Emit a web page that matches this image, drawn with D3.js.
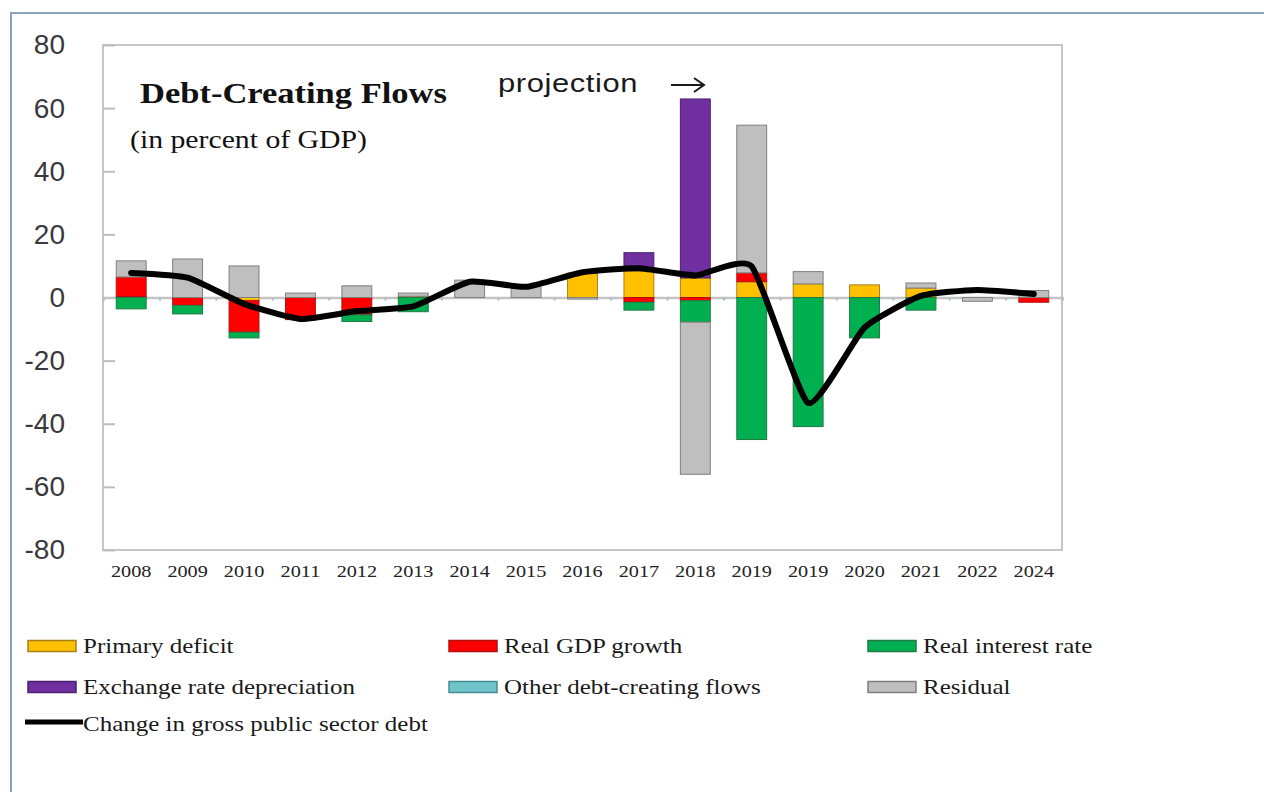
<!DOCTYPE html>
<html>
<head>
<meta charset="utf-8">
<script src="https://cdn.jsdelivr.net/npm/d3@7"></script>
<style>
  body { margin: 0; background: #fff; }
  svg { display: block; }
</style>
</head>
<body>
<svg id="chart" width="1264" height="792"></svg>
<script>
// ---- data (percent of GDP) ----
const years = ["2008","2009","2010","2011","2012","2013","2014","2015","2016","2017","2018","2019","2019","2020","2021","2022","2024"];
const primaryDeficit   = [0.3, 0, -1, 0, 0, 0.4, 0, 0, 7.7, 8.5, 6.2, 5, 4.3, 4, 3, 0, 0];
const realGdpGrowth    = [6.2, -2.5, -10, -7, -5.5, 0, 0, 0, 0, -1.5, -1, 2.8, 0, 0, 0, 0, -1.5];
const realInterestRate = [-3.6, -2.7, -1.8, 0, -2.1, -4.5, 0, 0, 0, -2.5, -6.8, -45, -40.9, -12.8, -4, 0, 0];
const exchangeRateDep  = [0, 0, 0, 0, 0, 0, 0, 0, 0, 5.7, 56.7, 0, 0, 0, 0, 0, 0];
const otherFlows       = [0, 0, 0, 0, 0, 0, 0, 0, 0, 0, 0, 0, 0, 0, 0, 0, 0];
const residual         = [5.1, 12.2, 10, 1.4, 3.7, 1.0, 5.5, 4, -0.5, 0, -48.2, 46.8, 3.9, 0, 1.6, -1.2, 2.2];
const debtChange       = [7.8, 6.3, -2, -6.8, -4.3, -2.8, 5, 3.4, 8, 9.3, 7, 9.8, -33.4, -9.5, 0.5, 2.4, 1.1];
const yTicks = [-80, -60, -40, -20, 0, 20, 40, 60, 80];

const seriesNames = ["Primary deficit", "Real GDP growth", "Real interest rate",
  "Exchange rate depreciation", "Other debt-creating flows", "Residual"];
const seriesValues = [primaryDeficit, realGdpGrowth, realInterestRate, exchangeRateDep, otherFlows, residual];
const seriesFill   = ["#ffc000", "#ff0000", "#00b050", "#7030a0", "#70c4cc", "#bfbfbf"];
const seriesStroke = ["#a8801a", "#b01010", "#1f7a45", "#4a2070", "#4a8a92", "#7f7f7f"];
const lineName = "Change in gross public sector debt";

// ---- layout ----
const svg = d3.select("#chart");
const plot = { left: 103, right: 1062, top: 45, bottom: 550 };
const serifStretch = 1.19;

const x = d3.scaleBand()
  .domain(d3.range(years.length))
  .range([plot.left, plot.right])
  .paddingInner(0.47)
  .paddingOuter(0.235);
const y = d3.scaleLinear().domain([-80, 80]).range([plot.bottom, plot.top]);

// outer frame
svg.append("path")
  .attr("d", "M11,792 V13 H1264")
  .attr("fill", "none")
  .attr("stroke", "#8ea2bb")
  .attr("stroke-width", 2);

// plot area box
svg.append("rect")
  .attr("x", plot.left).attr("y", plot.top)
  .attr("width", plot.right - plot.left).attr("height", plot.bottom - plot.top)
  .attr("fill", "#fff")
  .attr("stroke", "#c6c6c6")
  .attr("stroke-width", 2);

// value axis: inward ticks, labels set out to the left
const yAxis = svg.append("g")
  .attr("transform", `translate(${plot.left},0)`)
  .call(d3.axisLeft(y).tickValues(yTicks).tickSizeInner(-12).tickSizeOuter(0)
    .tickPadding(38).tickFormat(d => String(d)));
yAxis.select(".domain").remove();
yAxis.selectAll(".tick line").attr("stroke", "#bdbdbd").attr("stroke-width", 2);
yAxis.selectAll(".tick text")
  .attr("font-family", "'Liberation Sans', Arial, sans-serif")
  .attr("font-size", 28)
  .attr("fill", "#3a3a3a");

// category axis along zero, with boundary ticks
const xEdge = d3.scaleLinear().domain([0, years.length]).range([plot.left, plot.right]);
const zeroAxis = svg.append("g")
  .attr("transform", `translate(0,${y(0)})`)
  .call(d3.axisBottom(xEdge).tickValues(d3.range(years.length + 1)).tickSize(3).tickFormat(""));
zeroAxis.select(".domain").attr("stroke", "#c4c4c4").attr("stroke-width", 2.5);
zeroAxis.selectAll(".tick line").attr("stroke", "#a9bccb").attr("stroke-width", 2);

// category labels under the box
const xAxis = svg.append("g")
  .attr("transform", `translate(0,${plot.bottom})`)
  .call(d3.axisBottom(x).tickSize(0).tickFormat(i => years[i]));
xAxis.select(".domain").remove();
xAxis.selectAll(".tick text")
  .attr("y", 27).attr("dy", 0)
  .attr("transform", `scale(${serifStretch},1)`)
  .attr("font-family", "'Liberation Serif', 'Times New Roman', serif")
  .attr("font-size", 17)
  .attr("fill", "#222");

// stacked bars
const rows = years.map((_, i) => {
  const r = { i };
  seriesNames.forEach((name, k) => { r[name] = seriesValues[k][i]; });
  return r;
});
const stacked = d3.stack().keys(seriesNames).offset(d3.stackOffsetDiverging)(rows);

svg.append("g").selectAll("g")
  .data(stacked)
  .join("g")
    .attr("fill", (d, k) => seriesFill[k])
    .attr("stroke", (d, k) => seriesStroke[k])
    .attr("stroke-width", 1)
  .selectAll("rect")
  .data(d => d.filter(p => p[1] !== p[0]))
  .join("rect")
    .attr("x", p => x(p.data.i))
    .attr("width", x.bandwidth())
    .attr("y", p => y(Math.max(p[0], p[1])))
    .attr("height", p => Math.abs(y(p[0]) - y(p[1])));

// change in debt line
const line = d3.line()
  .x((d, i) => x(i) + x.bandwidth() / 2)
  .y(d => y(d))
  .curve(d3.curveCardinal.tension(0.5));
svg.append("path")
  .datum(debtChange)
  .attr("d", line)
  .attr("fill", "none")
  .attr("stroke", "#000")
  .attr("stroke-width", 6)
  .attr("stroke-linecap", "round")
  .attr("stroke-linejoin", "round");

// titles
const serif = "'Liberation Serif', 'Times New Roman', serif";
svg.append("text")
  .attr("transform", `translate(140,103) scale(${serifStretch},1)`)
  .attr("font-family", serif).attr("font-weight", "bold").attr("font-size", 29)
  .attr("fill", "#111")
  .text("Debt-Creating Flows");
svg.append("text")
  .attr("transform", `translate(130,148) scale(${serifStretch},1)`)
  .attr("font-family", serif).attr("font-size", 25)
  .attr("fill", "#111")
  .text("(in percent of GDP)");

svg.append("text")
  .attr("transform", `translate(498,92) scale(${serifStretch},1)`)
  .attr("font-family", "'Liberation Sans', Arial, sans-serif").attr("font-size", 26)
  .attr("letter-spacing", 0.5)
  .attr("fill", "#1a1a1a")
  .text("projection");
svg.append("path")
  .attr("d", "M671,85 H703 M694,78 L704,85 L694,92")
  .attr("fill", "none").attr("stroke", "#1a1a1a").attr("stroke-width", 2);

// legend
const legendCols = [28, 449, 868];
const legendRows = [646, 687, 723];
const legend = svg.append("g");
seriesNames.forEach((name, k) => {
  const lx = legendCols[k % 3], ly = legendRows[Math.floor(k / 3)];
  legend.append("rect")
    .attr("x", lx).attr("y", ly - 5.5).attr("width", 48).attr("height", 11)
    .attr("fill", seriesFill[k]).attr("stroke", seriesStroke[k]).attr("stroke-width", 1.5);
  legend.append("text")
    .attr("transform", `translate(${lx + 55},${ly + 7}) scale(${serifStretch},1)`)
    .attr("font-family", serif).attr("font-size", 21).attr("fill", "#1a1a1a")
    .text(name);
});
legend.append("line")
  .attr("x1", 25).attr("x2", 83)
  .attr("y1", legendRows[2] - 1).attr("y2", legendRows[2] - 1)
  .attr("stroke", "#000").attr("stroke-width", 5);
legend.append("text")
  .attr("transform", `translate(83,${legendRows[2] + 8}) scale(${serifStretch},1)`)
  .attr("font-family", serif).attr("font-size", 21).attr("fill", "#1a1a1a")
  .text(lineName);
</script>
</body>
</html>
